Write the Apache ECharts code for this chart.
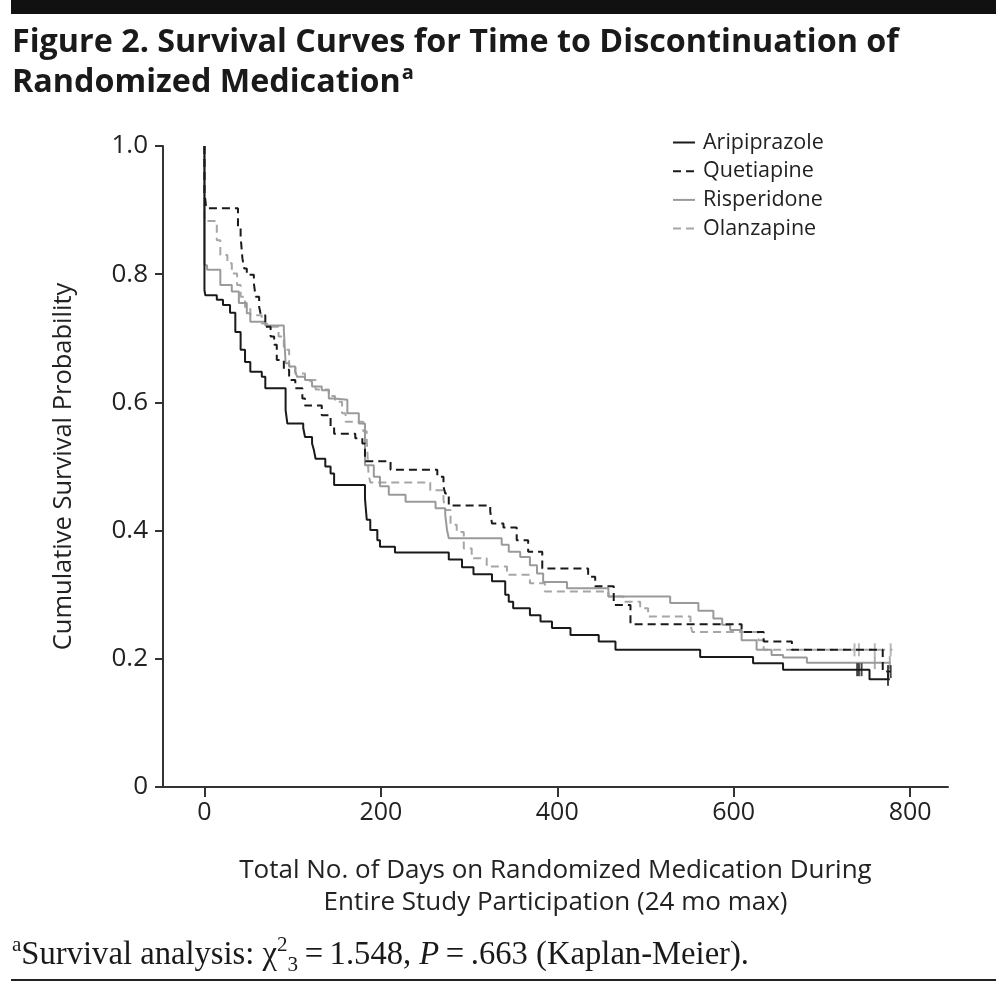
<!DOCTYPE html>
<html>
<head>
<meta charset="utf-8">
<script src="https://cdn.jsdelivr.net/npm/echarts@6.0.0/dist/echarts.min.js"></script>
<style>
html,body{margin:0;padding:0;background:#fff;}
#chart{width:1006px;height:985px;}
</style>
</head>
<body>
<div id="chart"></div>
<script>
// ---- data (days, cumulative survival) ----
const seriesNames = ['Aripiprazole', 'Quetiapine', 'Risperidone', 'Olanzapine'];
const xTickValues = [0, 200, 400, 600, 800];
const yTickValues = [0, 0.2, 0.4, 0.6, 0.8, 1.0];

const aripiprazole = [
  [0,1.0],[0,0.775],[1,0.767],[14,0.760],[21,0.752],[29,0.740],[35,0.710],[41,0.682],
  [46,0.663],[52,0.648],[65,0.640],[69,0.622],[92,0.588],[94,0.567],[112,0.560],[114,0.546],
  [122,0.536],[124,0.526],[126,0.512],[137,0.500],[143,0.489],[147,0.471],[182,0.450],
  [184,0.417],[188,0.401],[196,0.385],[199,0.375],[216,0.366],[277,0.355],[292,0.343],
  [305,0.332],[326,0.321],[341,0.300],[345,0.289],[350,0.279],[369,0.268],[381,0.258],
  [394,0.248],[415,0.237],[447,0.227],[466,0.214],[562,0.203],[622,0.193],[656,0.183],
  [754,0.168],[777,0.168]
];
const quetiapine = [
  [0,1.0],[0,0.926],[1,0.916],[2,0.903],[38,0.872],[41,0.859],[43,0.825],[45,0.809],
  [48,0.799],[56,0.786],[58,0.765],[62,0.749],[64,0.736],[69,0.718],[75,0.703],[79,0.690],
  [82,0.666],[90,0.651],[96,0.635],[103,0.622],[111,0.606],[114,0.595],[133,0.580],
  [143,0.562],[147,0.551],[171,0.544],[179,0.536],[182,0.508],[211,0.495],[264,0.484],
  [271,0.469],[273,0.458],[277,0.439],[324,0.430],[326,0.411],[339,0.405],[354,0.385],
  [367,0.367],[383,0.341],[435,0.328],[443,0.313],[464,0.284],[483,0.254],[609,0.242],
  [634,0.227],[666,0.214],[769,0.180],[778,0.180]
];
const risperidone = [
  [0,1.0],[0,0.814],[3,0.807],[18,0.783],[31,0.773],[39,0.755],[48,0.739],[52,0.726],
  [69,0.720],[90,0.713],[92,0.661],[96,0.656],[103,0.648],[105,0.640],[114,0.635],
  [118,0.632],[122,0.625],[133,0.619],[141,0.606],[147,0.604],[162,0.583],[175,0.567],
  [182,0.502],[192,0.484],[199,0.469],[209,0.456],[228,0.445],[262,0.435],[273,0.425],
  [275,0.401],[277,0.388],[337,0.378],[345,0.367],[358,0.359],[369,0.346],[377,0.333],
  [384,0.320],[411,0.310],[458,0.297],[528,0.287],[560,0.275],[577,0.263],[587,0.253],
  [596,0.245],[609,0.229],[626,0.214],[643,0.206],[656,0.202],[683,0.194],[778,0.194]
];
const olanzapine = [
  [0,1.0],[0,0.883],[14,0.853],[18,0.830],[26,0.817],[31,0.801],[37,0.783],[41,0.765],
  [46,0.749],[52,0.736],[65,0.723],[71,0.718],[84,0.703],[90,0.682],[96,0.656],[103,0.645],
  [114,0.635],[126,0.620],[141,0.610],[148,0.601],[156,0.583],[160,0.570],[180,0.555],
  [184,0.541],[186,0.489],[188,0.475],[256,0.463],[271,0.448],[273,0.432],[279,0.409],
  [286,0.398],[294,0.372],[303,0.357],[320,0.344],[343,0.331],[369,0.318],[386,0.305],
  [458,0.297],[475,0.289],[494,0.279],[503,0.266],[551,0.253],[553,0.242],[628,0.229],
  [634,0.214],[780,0.214]
];
// censored observations (tick marks)
const aripiprazoleCensored = [[740,0.183],[742,0.183],[745,0.183],[775,0.168]];
const quetiapineCensored = [[775,0.180],[778,0.180]];
const risperidoneCensored = [[760,0.194],[777,0.194]];
const olanzapineCensored = [[737,0.214],[742,0.214],[760,0.214],[778,0.214]];

const curveData = [aripiprazole, quetiapine, risperidone, olanzapine];
const censorData = [aripiprazoleCensored, quetiapineCensored, risperidoneCensored, olanzapineCensored];

// ---- styles ----
const colors = ['#1a1a1a', '#1a1a1a', '#9a9a9a', '#a6a6a6'];
const dashes = ['solid', [8, 5], 'solid', [8, 5]];
const FONT = 'Open Sans';

const chart = echarts.init(document.getElementById('chart'), null, {renderer: 'canvas'});

const series = [];
curveData.forEach((d, i) => {
  series.push({
    name: seriesNames[i], type: 'line', step: 'end', data: d,
    symbol: 'none', showSymbol: false, silent: true,
    lineStyle: {color: colors[i], width: 2, type: dashes[i]},
    itemStyle: {color: colors[i]},
    z: 10 - i
  });
});
censorData.forEach((d, i) => {
  series.push({
    name: seriesNames[i] + ' censored', type: 'scatter', data: d,
    symbol: 'rect', symbolSize: [2, 13], silent: true,
    itemStyle: {color: colors[i]}, z: 10 - i
  });
});

const option = {
  backgroundColor: '#fff',
  animation: false,
  textStyle: {fontFamily: FONT},
  grid: {left: 163, right: 58, top: 146, bottom: 198, containLabel: false},
  legend: {
    data: seriesNames.map(n => ({name: n})),
    orient: 'vertical', left: 667, top: 126,
    itemWidth: 22, itemHeight: 14, itemGap: 5.7,
    itemStyle: {opacity: 0},
    textStyle: {fontFamily: FONT, fontSize: 21.5, color: '#222', lineHeight: 23, padding: [0,0,0,3]},
    selectedMode: false
  },
  xAxis: {
    type: 'value', min: -47, max: 843,
    name: 'Total No. of Days on Randomized Medication During\nEntire Study Participation (24 mo max)',
    nameLocation: 'middle', nameGap: 68,
    nameTextStyle: {fontFamily: FONT, fontSize: 26, color: '#222', lineHeight: 32},
    axisLine: {show: true, onZero: false, lineStyle: {color: '#333', width: 2}},
    axisTick: {show: true, length: 10, lineStyle: {color: '#333', width: 2}, customValues: xTickValues},
    axisLabel: {fontFamily: FONT, fontSize: 25, color: '#222', margin: 13, customValues: xTickValues},
    splitLine: {show: false}
  },
  yAxis: {
    type: 'value', min: 0, max: 1, interval: 0.2,
    name: 'Cumulative Survival Probability',
    nameLocation: 'middle', nameGap: 86, nameRotate: 90,
    nameTextStyle: {fontFamily: FONT, fontSize: 25.5, color: '#222'},
    axisLine: {show: true, onZero: false, lineStyle: {color: '#333', width: 2}},
    axisTick: {show: true, length: 8, lineStyle: {color: '#333', width: 2}},
    axisLabel: {fontFamily: FONT, fontSize: 26, color: '#222', margin: 15,
      formatter: v => (v === 0 ? '0' : v.toFixed(1))},
    splitLine: {show: false}
  },
  graphic: [
    {type: 'rect', left: 11, top: 0, shape: {width: 985, height: 14}, style: {fill: '#111'}},
    {type: 'text', left: 12, top: 27, style: {
      text: 'Figure 2. Survival Curves for Time to Discontinuation of',
      font: 'bold 32.3px "' + FONT + '"', fill: '#1a1a1a'}},
    {type: 'text', left: 12, top: 63, style: {
      text: 'Randomized Medication{sup|a}',
      font: 'bold 32.3px "' + FONT + '"', fill: '#1a1a1a',
      rich: {sup: {fontSize: 20, fontWeight: 'bold', fontFamily: FONT, verticalAlign: 'top', lineHeight: 40, padding: [0,0,15,1]}}}},
    {type: 'text', x: 12, y: 934, scaleX: 0.96, originX: 0, originY: 0, style: {
      text: '{sup|a}{t|Survival analysis: χ}{sup|2}{sub|3}{t|\u2009=\u20091.548, }{it|P}{t|\u2009=\u2009.663 (Kaplan-Meier).}',
      fill: '#1a1a1a',
      rich: {
        t: {fontFamily: 'Liberation Serif', fontSize: 34, lineHeight: 42, verticalAlign: 'middle'},
        it: {fontFamily: 'Liberation Serif', fontSize: 34, fontStyle: 'italic', lineHeight: 42, verticalAlign: 'middle'},
        sup: {fontFamily: 'Liberation Serif', fontSize: 22, lineHeight: 42, verticalAlign: 'top', padding: [0,0,14,0]},
        sub: {fontFamily: 'Liberation Serif', fontSize: 22, lineHeight: 42, verticalAlign: 'bottom', padding: [10,0,0,0]}
      }}},
    {type: 'rect', left: 11, top: 979, shape: {width: 985, height: 2}, style: {fill: '#222'}}
  ],
  series: series
};
chart.setOption(option);
</script>
</body>
</html>
